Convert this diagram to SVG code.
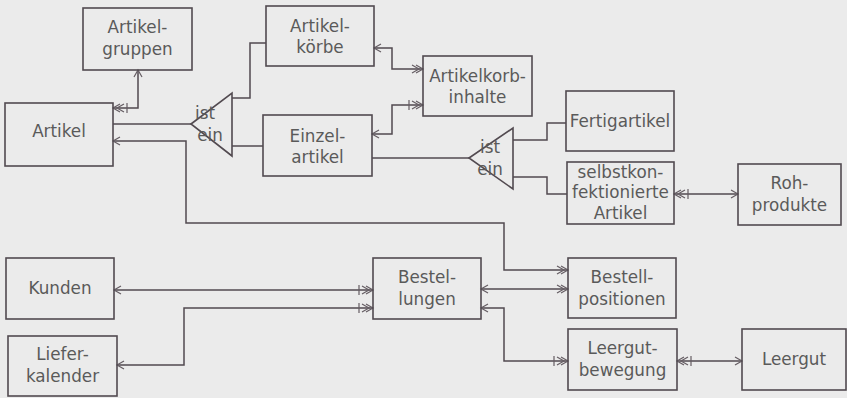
<svg xmlns="http://www.w3.org/2000/svg" width="847" height="398" viewBox="0 0 847 398">
<style>
.bg{fill:#ebebeb}
.box{fill:none;stroke:#524a50;stroke-width:1.6}
.tri{fill:none;stroke:#524a50;stroke-width:1.6;stroke-linejoin:miter}
.c{fill:none;stroke:#524a50;stroke-width:1.5}
.mk{fill:none;stroke:#655d63;stroke-width:1.2}
text{font-family:"DejaVu Sans","Liberation Sans",sans-serif;font-size:16.8px;fill:#5a5a5a;text-anchor:middle}
</style>
<defs>
<marker id="one" markerUnits="userSpaceOnUse" markerWidth="24" markerHeight="24" viewBox="-18 -12 24 24" refX="0" refY="0" orient="auto-start-reverse" overflow="visible">
<path class="mk" d="M-7,-4 L0,0 L-7,4"/>
</marker>
<marker id="many" markerUnits="userSpaceOnUse" markerWidth="24" markerHeight="24" viewBox="-18 -12 24 24" refX="0" refY="0" orient="auto-start-reverse" overflow="visible">
<path class="mk" d="M-7,-4 L0,0 L-7,4 M-11,-4 L-4,0 L-11,4"/>
</marker>
<marker id="manyone" markerUnits="userSpaceOnUse" markerWidth="24" markerHeight="24" viewBox="-18 -12 24 24" refX="0" refY="0" orient="auto-start-reverse" overflow="visible">
<path class="mk" d="M-7,-4 L0,0 L-7,4 M-11,-4 L-4,0 L-11,4 M-14,-5 L-14,5"/>
</marker>
</defs>
<rect class="bg" x="0" y="0" width="847" height="398"/>

<g id="connectors">
<path class="c" d="M138,70 L138,108 L113,108" marker-start="url(#one)" marker-end="url(#manyone)"/>
<path class="c" d="M113,124 L191,124"/>
<path class="c" d="M232,98 L250,98 L250,43 L266,43"/>
<path class="c" d="M232,146 L263,146"/>
<path class="c" d="M374,48 L392,48 L392,69 L423,69" marker-start="url(#one)" marker-end="url(#many)"/>
<path class="c" d="M372,134 L392,134 L392,105 L423,105" marker-start="url(#one)" marker-end="url(#manyone)"/>
<path class="c" d="M372,158 L469,158"/>
<path class="c" d="M513,140 L547,140 L547,123 L566,123"/>
<path class="c" d="M513,177 L547,177 L547,194 L567,194"/>
<path class="c" d="M674,194 L738,194" marker-start="url(#manyone)" marker-end="url(#one)"/>
<path class="c" d="M113,141 L186,141 L186,223 L504,223 L504,270 L568,270" marker-start="url(#one)" marker-end="url(#many)"/>
<path class="c" d="M114,290 L373,290" marker-start="url(#one)" marker-end="url(#manyone)"/>
<path class="c" d="M117,365 L184,365 L184,308 L373,308" marker-start="url(#one)" marker-end="url(#manyone)"/>
<path class="c" d="M481,289 L568,289" marker-start="url(#one)" marker-end="url(#many)"/>
<path class="c" d="M481,308 L504,308 L504,361 L568,361" marker-start="url(#one)" marker-end="url(#manyone)"/>
<path class="c" d="M677,361 L742,361" marker-start="url(#manyone)" marker-end="url(#one)"/>
</g>

<g id="istein1">
<polygon class="tri" points="191,124 232,93 232,156"/>
<text x="205" y="119">ist</text>
<text x="210" y="141">ein</text>
</g>
<g id="istein2">
<polygon class="tri" points="469,158 513,128 513,189"/>
<text x="490" y="153">ist</text>
<text x="490" y="175">ein</text>
</g>

<g id="artikelgruppen">
<rect class="box" x="83" y="8" width="109" height="62"/>
<text x="137.5" y="33">Artikel-</text>
<text x="137.5" y="55">gruppen</text>
</g>
<g id="artikel">
<rect class="box" x="5" y="103" width="108" height="63"/>
<text x="59" y="137">Artikel</text>
</g>
<g id="artikelkoerbe">
<rect class="box" x="266" y="6" width="108" height="60"/>
<text x="320" y="32">Artikel-</text>
<text x="320" y="53">körbe</text>
</g>
<g id="artikelkorbinhalte">
<rect class="box" x="423" y="56" width="109" height="60"/>
<text x="477.5" y="82">Artikelkorb-</text>
<text x="477.5" y="103">inhalte</text>
</g>
<g id="einzelartikel">
<rect class="box" x="263" y="115" width="109" height="61"/>
<text x="317.5" y="142">Einzel-</text>
<text x="317.5" y="163">artikel</text>
</g>
<g id="fertigartikel">
<rect class="box" x="566" y="91" width="108" height="60"/>
<text x="620" y="127">Fertigartikel</text>
</g>
<g id="selbstkonfektionierte">
<rect class="box" x="567" y="162" width="107" height="62"/>
<text x="620.5" y="178">selbstkon-</text>
<text x="620.5" y="198">fektionierte</text>
<text x="620.5" y="219">Artikel</text>
</g>
<g id="rohprodukte">
<rect class="box" x="738" y="164" width="103" height="61"/>
<text x="789.5" y="189">Roh-</text>
<text x="789.5" y="211">produkte</text>
</g>
<g id="kunden">
<rect class="box" x="6" y="258" width="108" height="61"/>
<text x="60" y="294">Kunden</text>
</g>
<g id="lieferkalender">
<rect class="box" x="8" y="336" width="109" height="60"/>
<text x="62.5" y="360">Liefer-</text>
<text x="62.5" y="382">kalender</text>
</g>
<g id="bestellungen">
<rect class="box" x="373" y="258" width="108" height="61"/>
<text x="427" y="283">Bestel-</text>
<text x="427" y="305">lungen</text>
</g>
<g id="bestellpositionen">
<rect class="box" x="568" y="258" width="108" height="60"/>
<text x="622" y="283">Bestell-</text>
<text x="622" y="305">positionen</text>
</g>
<g id="leergutbewegung">
<rect class="box" x="568" y="329" width="109" height="61"/>
<text x="622.5" y="354">Leergut-</text>
<text x="622.5" y="376">bewegung</text>
</g>
<g id="leergut">
<rect class="box" x="742" y="329" width="104" height="61"/>
<text x="794" y="365">Leergut</text>
</g>
</svg>
